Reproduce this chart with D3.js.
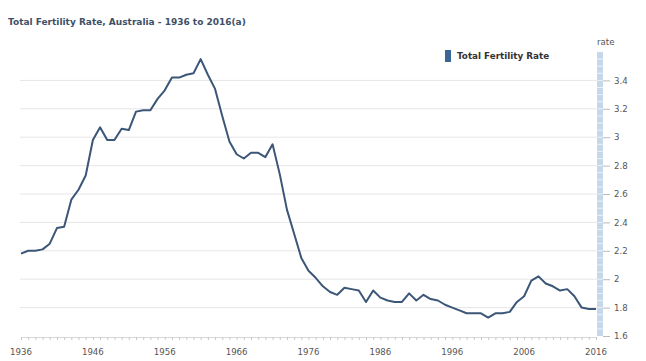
<!DOCTYPE html>
<html><head><meta charset="utf-8">
<script src="https://cdn.jsdelivr.net/npm/d3@7/dist/d3.min.js"></script>
<style>body{margin:0;background:#fff}svg{display:block}</style>
</head><body>
<svg id="c" width="646" height="361"></svg>
<script>
const years = d3.range(1936, 2017);
const tfr = [2.18,2.20,2.20,2.21,2.25,2.36,2.37,2.56,2.63,2.73,2.98,3.07,2.98,2.98,3.06,3.05,3.18,3.19,3.19,3.27,3.33,3.42,3.42,3.44,3.45,3.55,3.44,3.34,3.15,2.97,2.88,2.85,2.89,2.89,2.86,2.95,2.74,2.49,2.32,2.15,2.06,2.01,1.95,1.91,1.89,1.94,1.93,1.92,1.84,1.92,1.87,1.85,1.84,1.84,1.90,1.85,1.89,1.86,1.85,1.82,1.80,1.78,1.76,1.76,1.76,1.73,1.76,1.76,1.77,1.84,1.88,1.99,2.02,1.97,1.95,1.92,1.93,1.88,1.80,1.79,1.79];
const xTickYears = [1936,1946,1956,1966,1976,1986,1996,2006,2016];
const yTicks = [1.6,1.8,2,2.2,2.4,2.6,2.8,3,3.2,3.4];
const title = "Total Fertility Rate, Australia - 1936 to 2016(a)";
const seriesName = "Total Fertility Rate";
const yAxisTitle = "rate";

const svg = d3.select("#c");
const font = "DejaVu Sans, Verdana, sans-serif";
const x = d3.scaleLinear().domain([1936, 2016]).range([21, 596]);
const y = d3.scaleLinear().domain([1.6, 3.6]).range([336, 52]);

// title
svg.append("text").attr("x", 8).attr("y", 25).text(title)
  .attr("font-family", font).attr("font-size", 9).attr("font-weight", "bold").attr("fill", "#3e5068");

// gridlines
svg.append("g").selectAll("line").data(yTicks.filter(d => d > 1.6)).join("line")
  .attr("x1", 20).attr("x2", 597).attr("y1", d => y(d)).attr("y2", d => y(d))
  .attr("stroke", "#e6e6e6").attr("stroke-width", 1);

// x axis
const xAxis = d3.axisBottom(x).tickValues(years).tickSize(3).tickFormat("");
const gx = svg.append("g").attr("transform", "translate(0,337)").call(xAxis);
gx.select(".domain").attr("stroke", "#d8d8d8");
gx.selectAll(".tick line").attr("stroke", "#c8c8c8");
svg.append("g").selectAll("text").data(xTickYears).join("text")
  .attr("x", d => x(d)).attr("y", 355).attr("text-anchor", "middle").text(d => d)
  .attr("font-family", font).attr("font-size", 8.6).attr("fill", "#555");

// right axis band
svg.append("rect").attr("x", 597).attr("y", 52).attr("width", 6).attr("height", 284).attr("fill", "#c7d7ea");
svg.append("g").selectAll("line").data(d3.range(1.65, 3.6, 0.05)).join("line")
  .attr("x1", 597).attr("x2", 603).attr("y1", d => y(d)).attr("y2", d => y(d))
  .attr("stroke", "#ffffff").attr("stroke-width", 0.8).attr("opacity", 0.8);
const yAxis = d3.axisRight(y).tickValues(yTicks).tickSize(7).tickPadding(4).tickFormat(d3.format("~g"));
const gy = svg.append("g").attr("transform", "translate(603,0)").call(yAxis);
gy.select(".domain").remove();
gy.selectAll(".tick line").attr("stroke", "#bbb");
gy.selectAll(".tick text").attr("font-family", font).attr("font-size", 8.6).attr("fill", "#555");
svg.append("text").attr("x", 597).attr("y", 45).text(yAxisTitle)
  .attr("font-family", font).attr("font-size", 8.6).attr("fill", "#555");

// line
const line = d3.line().x((d, i) => x(years[i])).y(d => y(d));
svg.append("path").datum(tfr).attr("d", line).attr("fill", "none")
  .attr("stroke", "#3b5677").attr("stroke-width", 2).attr("stroke-linejoin", "round");

// legend
svg.append("rect").attr("x", 445).attr("y", 50).attr("width", 6).attr("height", 12).attr("fill", "#3a6596");
svg.append("text").attr("x", 457).attr("y", 59).text(seriesName)
  .attr("font-family", font).attr("font-size", 8.8).attr("font-weight", "bold").attr("fill", "#333");
</script>
</body></html>
